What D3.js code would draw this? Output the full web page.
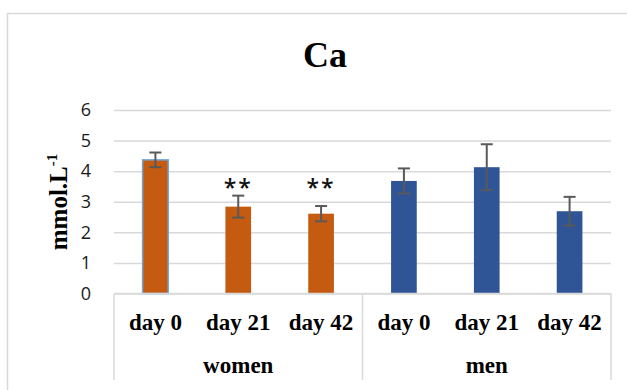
<!DOCTYPE html>
<html>
<head>
<meta charset="utf-8">
<script src="https://cdn.jsdelivr.net/npm/d3@7"></script>
<style>
  html, body { margin: 0; padding: 0; background: #fff; }
  svg { display: block; }
</style>
</head>
<body>
<svg id="chart" width="627" height="390"></svg>
<script>
// chart values
const groups = ["women", "men"];
const days = ["day 0", "day 21", "day 42"];
const means = [4.37, 2.84, 2.61, 3.68, 4.13, 2.69];
const errors = [0.24, 0.36, 0.25, 0.41, 0.75, 0.47];
const marks = ["", "**", "**", "", "", ""];
const yTicks = [0, 1, 2, 3, 4, 5, 6];

const COLORS = { women: "#c55a11", men: "#2f5597" };
const GRID = "#d9d9d9";

var svg = d3.select("#chart");

// outer frame of the chart
svg.append("rect")
    .attr("x", 7.5).attr("y", 13.5)
    .attr("width", 660).attr("height", 420)
    .attr("fill", "#fff")
    .attr("stroke", GRID)
    .attr("stroke-width", 1.5);

var rows = [];
groups.forEach(function (g, gi) {
    days.forEach(function (d, di) {
        var i = gi * days.length + di;
        rows.push({ key: i, group: g, day: d, mean: means[i], err: errors[i], mark: marks[i] });
    });
});

var x = d3.scaleBand()
    .domain(rows.map(function (d) { return d.key; }))
    .range([114, 611])
    .paddingInner(0.69)
    .paddingOuter(0.345);

var y = d3.scaleLinear().domain([0, 6]).range([293.5, 110]);

// gridlines + tick labels
var yAxis = d3.axisLeft(y)
    .tickValues(yTicks)
    .tickFormat(d3.format("d"))
    .tickSize(-(611 - 114))
    .tickPadding(23);
var gy = svg.append("g").attr("transform", "translate(114,0)").call(yAxis);
gy.select(".domain").remove();
gy.selectAll(".tick line").attr("stroke", GRID).attr("stroke-width", 1.5);
gy.selectAll(".tick text")
    .attr("fill", "#1a1a1a")
    .style("font-family", "'Open Sans', sans-serif")
    .style("font-size", "18px");

// bars
svg.append("g").selectAll("rect")
    .data(rows)
    .join("rect")
    .attr("x", function (d) { return x(d.key); })
    .attr("y", function (d) { return y(d.mean); })
    .attr("width", x.bandwidth())
    .attr("height", function (d) { return y(0) - y(d.mean); })
    .attr("fill", function (d) { return COLORS[d.group]; })
    .attr("stroke", function (d) { return d.key === 0 ? "#6fa8dc" : "none"; })
    .attr("stroke-width", 1.5);

// error bars
var eb = svg.append("g").attr("stroke", "#595959").attr("stroke-width", 2).attr("fill", "none");
rows.forEach(function (d) {
    var cx = x(d.key) + x.bandwidth() / 2;
    var top = y(d.mean + d.err), bot = y(d.mean - d.err);
    eb.append("line").attr("x1", cx).attr("x2", cx).attr("y1", top).attr("y2", bot);
    eb.append("line").attr("x1", cx - 6).attr("x2", cx + 6).attr("y1", top).attr("y2", top);
    eb.append("line").attr("x1", cx - 6).attr("x2", cx + 6).attr("y1", bot).attr("y2", bot);
});

// significance marks
svg.append("g").selectAll("text")
    .data(rows.filter(function (d) { return d.mark; }))
    .join("text")
    .attr("x", function (d) { return x(d.key) + x.bandwidth() / 2; })
    .attr("y", 196)
    .attr("text-anchor", "middle")
    .style("font-family", "'Open Sans', sans-serif")
    .style("font-weight", "600")
    .style("font-size", "23px")
    .style("letter-spacing", "2px")
    .attr("fill", "#111")
    .text(function (d) { return d.mark; });

// x axis line and category boxes
var axis = svg.append("g").attr("stroke", GRID).attr("stroke-width", 1.5);
axis.append("line").attr("x1", 114).attr("x2", 611).attr("y1", y(0)).attr("y2", y(0));
var step = x.step();
var bounds = [114, 114 + step * days.length, 611];
bounds.forEach(function (bx) {
    axis.append("line").attr("x1", bx).attr("x2", bx).attr("y1", y(0)).attr("y2", 380);
});

var serif = "'Liberation Serif', 'Times New Roman', serif";

svg.append("g").selectAll("text")
    .data(rows)
    .join("text")
    .attr("x", function (d) { return x(d.key) + x.bandwidth() / 2; })
    .attr("y", 330)
    .attr("text-anchor", "middle")
    .style("font-family", serif)
    .style("font-weight", "bold")
    .style("font-size", "23px")
    .text(function (d) { return d.day; });

svg.append("g").selectAll("text")
    .data(groups)
    .join("text")
    .attr("x", function (d, i) { return (bounds[i] + bounds[i + 1]) / 2; })
    .attr("y", 373)
    .attr("text-anchor", "middle")
    .style("font-family", serif)
    .style("font-weight", "bold")
    .style("font-size", "23px")
    .text(function (d) { return d; });

// title
svg.append("text")
    .attr("x", 325).attr("y", 67)
    .attr("text-anchor", "middle")
    .style("font-family", serif)
    .style("font-weight", "bold")
    .style("font-size", "36px")
    .text("Ca");

// y axis title
var yt = svg.append("text")
    .attr("transform", "translate(67,202) rotate(-90)")
    .attr("text-anchor", "middle")
    .style("font-family", serif)
    .style("font-weight", "bold")
    .style("font-size", "25px");
yt.append("tspan").text("mmol.L");
yt.append("tspan").attr("dy", -10).style("font-size", "15px").text("-1");
</script>
</body>
</html>
